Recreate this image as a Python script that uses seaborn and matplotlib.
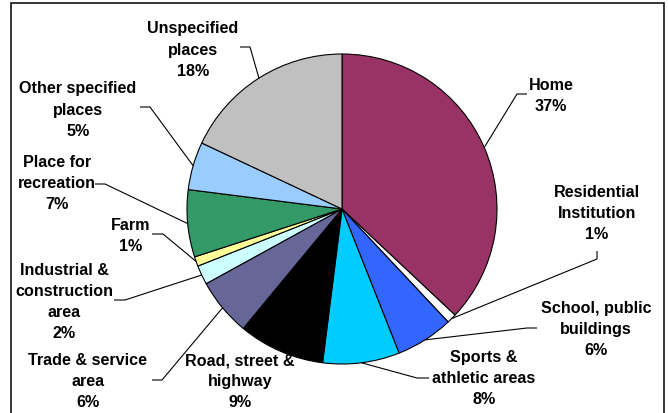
import numpy as np
import matplotlib
matplotlib.use("Agg")
import matplotlib.pyplot as plt
from matplotlib.patches import Rectangle
import seaborn as sns

sns.set_theme(style="white")
plt.rcParams["font.family"] = ["Liberation Sans", "DejaVu Sans"]

# Place of occurrence, share of cases (%)
categories = [
    "Home", "Residential\nInstitution", "School, public\nbuildings",
    "Sports &\nathletic areas", "Road, street &\nhighway", "Trade & service\narea",
    "Industrial &\nconstruction\narea", "Farm", "Place for\nrecreation",
    "Other specified\nplaces", "Unspecified\nplaces",
]
shares = [37, 1, 6, 8, 9, 6, 2, 1, 7, 5, 18]
colors = ["#993366", "#FFFFFF", "#3366FF", "#00CCFF", "#000000", "#666699",
          "#CCFFFF", "#FFFF99", "#339966", "#99CCFF", "#C0C0C0"]
palette = sns.color_palette(colors)

W, H = 668, 414
CX, CY, R = 342, 210, 155  # pie centre and radius in pixels

# label block centres (pixels) and the leader stub drawn next to each label
label_pos = [(551, 96), (597, 214), (596, 330), (484, 379), (240, 382), (88, 382),
             (64, 302), (131, 236), (57, 184), (78, 110), (193, 50)]
stubs = [[(527, 95), (517, 95)], [(597, 252), (597, 260)], [(537, 329), (527, 329)],
         [(429, 379), (417, 379)], None, [(152, 381), (162, 381)],
         [(114, 301), (125, 301)], [(152, 235), (163, 235)], [(95, 185), (105, 185)],
         [(140, 108), (150, 108)], [(240, 48), (250, 48)]]


def to_data(p):
    return ((p[0] - CX) / R, (CY - p[1]) / R)


fig = plt.figure(figsize=(W / 100, H / 100), dpi=100)
ax = fig.add_axes([0, 0, 1, 1])

wedges, _ = ax.pie(shares, colors=palette, startangle=90, counterclock=False,
                   radius=1, center=(0, 0), frame=True,
                   wedgeprops=dict(edgecolor="black", linewidth=0.8))
ax.set_xlim(-CX / R, (W - CX) / R)
ax.set_ylim((CY - H) / R, CY / R)
ax.set_aspect("auto")
ax.set_axis_off()

for w, name, val, pos, stub in zip(wedges, categories, shares, label_pos, stubs):
    mid = np.deg2rad((w.theta1 + w.theta2) / 2)
    anchor = (np.cos(mid), np.sin(mid))
    if stub is not None:
        pts = [to_data(p) for p in stub] + [anchor]
        xs, ys = zip(*pts)
        ax.plot(xs, ys, color="black", linewidth=0.8, solid_capstyle="butt")
    tx, ty = to_data(pos)
    ax.text(tx, ty, f"{name}\n{val}%", ha="center", va="center",
            fontsize=11.6, fontweight="bold", linespacing=1.5, color="black")

# chart-area border
fig.patches.append(Rectangle((11 / W, -0.05), (664 - 11) / W, 1.05 - 4 / H,
                             transform=fig.transFigure, fill=False,
                             edgecolor="black", linewidth=1.1))

fig.savefig("out.png", dpi=100, facecolor="white")
